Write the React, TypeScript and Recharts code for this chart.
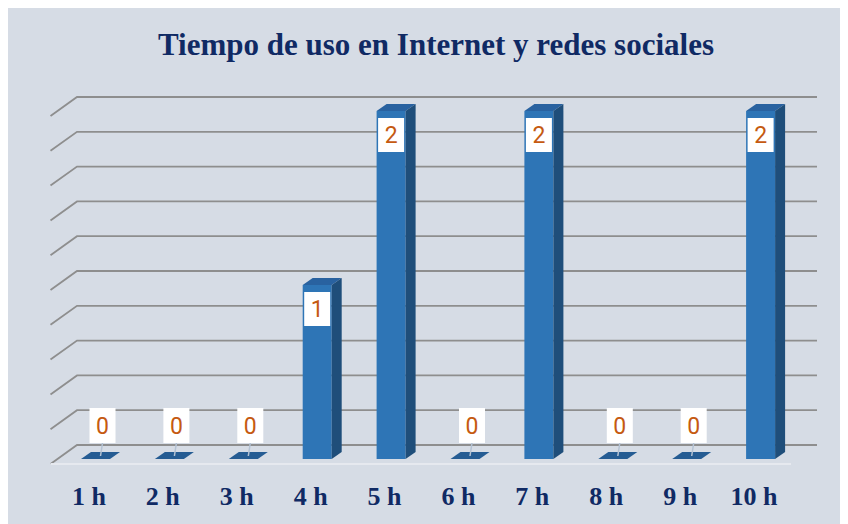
import React from 'react';
import { BarChart, Bar, XAxis, YAxis, CartesianGrid, ReferenceLine } from 'recharts';

const categories = ['1 h', '2 h', '3 h', '4 h', '5 h', '6 h', '7 h', '8 h', '9 h', '10 h'];
const values = [0, 0, 0, 1, 2, 0, 2, 0, 0, 2];
const yTicks = [0, 0.2, 0.4, 0.6, 0.8, 1, 1.2, 1.4, 1.6, 1.8, 2];
const title = 'Tiempo de uso en Internet y redes sociales';

const data = categories.map((c, i) => ({ category: c, value: values[i] }));

const W = 840;
const H = 516;
const DX = 10;
const DY = 7;

const BG = '#d6dce5';
const NAVY = '#102a64';
const ORANGE = '#c55a11';

const Bar3D = (props: any) => {
  const { x, y, width, height, payload } = props;
  const v = payload ? payload.value : 0;
  const w = width;
  const cx = x + w / 2;
  if (!v) {
    const y0 = y + (height || 0);
    const bx = cx + 7 - 13;
    const by = y0 - 16 - 35;
    return (
      <g>
        <polygon
          points={`${x},${y0} ${x + w},${y0} ${x + w + DX},${y0 - DY} ${x + DX},${y0 - DY}`}
          fill="#255c93"
        />
        <line x1={cx + 7} y1={y0 - 16} x2={cx + 5} y2={y0 - 3} stroke="#b4c2d3" strokeWidth={1.5} />
        <rect x={bx} y={by} width={26} height={35} fill="#ffffff" />
        <text x={bx + 13} y={by + 17.5 + 8} textAnchor="middle" fontFamily="Roboto, sans-serif" fontSize={23} fill={ORANGE}>
          {v}
        </text>
      </g>
    );
  }
  const bx = cx - 13;
  const by = y + 7;
  return (
    <g>
      <rect x={x} y={y} width={w} height={height} fill="#2e75b6" />
      <polygon
        points={`${x},${y} ${x + DX},${y - DY} ${x + w + DX},${y - DY} ${x + w},${y}`}
        fill="#2962a0"
      />
      <polygon
        points={`${x + w},${y} ${x + w + DX},${y - DY} ${x + w + DX},${y + height - DY} ${x + w},${y + height}`}
        fill="#1f4e7a"
      />
      <rect x={bx} y={by} width={26} height={34} fill="#ffffff" />
      <text x={bx + 13} y={by + 17 + 8} textAnchor="middle" fontFamily="Roboto, sans-serif" fontSize={23} fill={ORANGE}>
        {v}
      </text>
    </g>
  );
};

const GridLine = (props: any) => {
  const { x1, x2, y1, index } = props;
  const y = y1;
  return (
    <path
      key={`g-${index}-${y}`}
      d={`M ${x1 - 8.5} ${y + 5} L ${x1 + 18} ${y - 14} L ${x2 + 19} ${y - 14}`}
      fill="none"
      stroke="#8e8e8e"
      strokeWidth={1.8}
    />
  );
};

const FloorLine = (props: any) => {
  const { x1, x2, y1 } = props;
  return <line x1={x1 - 8.5} y1={y1 + 5} x2={x2 - 7} y2={y1 + 5} stroke="#e6e9ef" strokeWidth={2} />;
};

const XTick = (props: any) => {
  const { x, y, payload } = props;
  return (
    <text x={x - 7} y={y + 46} textAnchor="middle" fontFamily="'Liberation Serif', 'Times New Roman', serif" fontWeight="bold" fontSize={26} fill={NAVY}>
      {payload.value}
    </text>
  );
};

export default function App() {
  return (
    <div style={{ position: 'relative', width: W, height: H, background: BG }}>
      <svg width={W} height={70} style={{ position: 'absolute', left: 0, top: 0 }}>
        <text x={428} y={47} textAnchor="middle" fontFamily="'Liberation Serif', 'Times New Roman', serif" fontWeight="bold" fontSize={31} fill={NAVY}>
          {title}
        </text>
      </svg>
      <div style={{ position: 'absolute', left: 0, top: 0 }}>
        <BarChart width={W} height={H} data={data} margin={{ top: 103, right: 50, bottom: 0, left: 51 }} barSize={29}>
          <CartesianGrid vertical={false} horizontal={GridLine as any} />
          <XAxis dataKey="category" axisLine={false} tickLine={false} tickSize={0} tickMargin={0} height={65} tick={<XTick />} interval={0} />
          <YAxis hide domain={[0, 2]} ticks={yTicks} />
          <ReferenceLine y={0} shape={FloorLine as any} />
          <Bar dataKey="value" shape={Bar3D as any} isAnimationActive={false} />
        </BarChart>
      </div>
    </div>
  );
}
